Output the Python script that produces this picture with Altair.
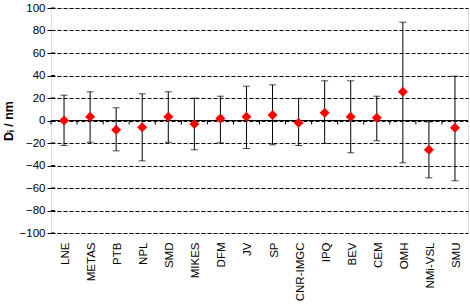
import altair as alt
import pandas as pd

labs = ["LNE", "METAS", "PTB", "NPL", "SMD", "MIKES", "DFM", "JV", "SP",
        "CNR-IMGC", "IPQ", "BEV", "CEM", "OMH", "NMi-VSL", "SMU"]
vals = [0, 3.3, -8.3, -5.9, 3.3, -3, 1.8, 3.3, 5, -2, 6.8, 3.3, 2.4, 25.5, -26, -6.5]
lows = [-22.2, -19.3, -27, -35.9, -19.3, -26, -19.9, -24.9, -21.6, -22.2, -20.4,
        -28.7, -18, -37.6, -51, -53.6]
highs = [22.5, 25.5, 11.3, 23.7, 25.5, 19.9, 21.6, 30.5, 31.7, 19.6, 35.3, 35.3,
         21.6, 87.4, -1.2, 39.4]
yticks = [-100, -80, -60, -40, -20, 0, 20, 40, 60, 80, 100]

df = pd.DataFrame({"lab": labs, "v": vals, "lo": lows, "hi": highs})
tdf = pd.DataFrame({"t": yticks})

FONT = "Liberation Sans"

xenc = alt.X("lab:N", sort=labs, title=None,
             scale=alt.Scale(paddingInner=0, paddingOuter=0),
             axis=alt.Axis(labelAngle=-90, domain=False, ticks=False,
                           labelFont=FONT, labelFontSize=11.5, labelColor="black",
                           labelPadding=9, labelBaseline="middle",
                           labelOffset=2, labelOverlap=False))
yscale = alt.Scale(domain=[-100, 100], nice=False)
yaxis = alt.Axis(values=yticks, tickCount=len(yticks), grid=True,
                 gridColor="black", gridDash=[4, 2], gridOpacity=1,
                 gridWidth=1,
                 domain=False, tickColor="black", tickSize=4,
                 labelFont=FONT, labelFontSize=11.5, labelColor="black",
                 labelPadding=2, labelOverlap=False, labelFlush=False,
                 titleFont=FONT, titleFontSize=12.5,
                 titleFontWeight="bold", titleColor="black",
                 titlePadding=4)
yenc = alt.Y("v:Q", scale=yscale, title="Dᵢ / nm", axis=yaxis)

base = alt.Chart(df)

zero = base.mark_rule(color="black", strokeWidth=1).encode(
    y=alt.Y(datum=0, scale=yscale, title="Dᵢ / nm", axis=yaxis),
    x=alt.value(0), x2=alt.value(417))
ticks0 = base.mark_rule(color="black", strokeWidth=1, y2Offset=4).encode(
    x=alt.X("lab:N", sort=labs, bandPosition=0),
    y=alt.Y(datum=0, scale=yscale), y2=alt.Y2(datum=0))
inner = alt.Chart(tdf).mark_rule(color="black", strokeWidth=1).encode(
    y=alt.Y("t:Q", scale=yscale), x=alt.value(0), x2=alt.value(4))
bars = base.mark_rule(color="black", strokeWidth=1).encode(
    x=alt.X("lab:N", sort=labs), y=alt.Y("lo:Q", scale=yscale), y2="hi:Q")
capl = base.mark_tick(color="black", thickness=1, size=7, orient="horizontal").encode(
    x=alt.X("lab:N", sort=labs), y=alt.Y("lo:Q", scale=yscale))
caph = base.mark_tick(color="black", thickness=1, size=7, orient="horizontal").encode(
    x=alt.X("lab:N", sort=labs), y=alt.Y("hi:Q", scale=yscale))
pts = base.mark_point(shape="diamond", filled=True, color="#ff0000", size=100,
                      opacity=1).encode(x=xenc, y=yenc)

chart = alt.layer(zero, ticks0, inner, bars, capl, caph, pts).properties(
    width=417, height=225,
    autosize=alt.AutoSizeParams(type="none"),
    padding={"left": 51, "top": 8, "right": 2, "bottom": 74},
).configure_view(stroke="black", strokeWidth=1).configure(background="white")

chart.save("out.html", embed_options={"renderer": "svg", "actions": False})
